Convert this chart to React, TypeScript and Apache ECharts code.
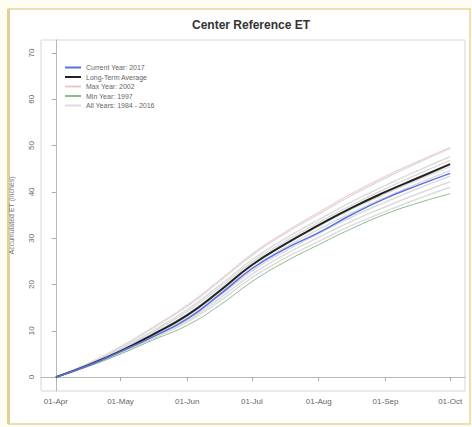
import React, { useEffect, useRef } from "react";
import * as echarts from "echarts";

// Days since 01-Apr at which values were read
const dayOffsets = [0, 15, 30, 45, 61, 76, 91, 106, 122, 137, 153, 168, 183];
const monthTickDays = [0, 30, 61, 91, 122, 153, 183];
const monthTickLabels = ["01-Apr", "01-May", "01-Jun", "01-Jul", "01-Aug", "01-Sep", "01-Oct"];
const yTicks = [0, 10, 20, 30, 40, 50, 60, 70];

const current2017 = [0, 2.5, 5.5, 8.7, 12.6, 17.8, 23.4, 27.6, 31.2, 35.0, 38.6, 41.4, 44.0];
const longTermAvg = [0, 2.6, 5.6, 9.2, 13.4, 18.6, 24.2, 28.6, 32.8, 36.5, 40.0, 43.0, 46.0];
const maxYear2002 = [0, 3.0, 6.6, 10.8, 15.6, 21.0, 26.6, 31.2, 35.6, 39.6, 43.4, 46.6, 49.6];
const minYear1997 = [0, 2.3, 5.0, 8.0, 11.2, 15.5, 20.6, 24.8, 28.6, 32.0, 35.2, 37.6, 39.6];

const allYearsA = [0, 2.9, 6.5, 10.6, 15.3, 20.7, 26.3, 30.9, 35.2, 39.2, 43.0, 46.3, 49.4];
const allYearsB = [0, 2.8, 6.2, 10.0, 14.6, 19.8, 25.3, 29.8, 34.0, 37.8, 41.4, 44.6, 47.6];
const allYearsC = [0, 2.7, 6.0, 9.7, 14.2, 19.3, 24.8, 29.2, 33.4, 37.1, 40.7, 43.8, 46.8];
const allYearsD = [0, 2.6, 5.7, 9.3, 13.6, 18.7, 24.2, 28.5, 32.6, 36.2, 39.6, 42.6, 45.4];
const allYearsE = [0, 2.5, 5.5, 9.0, 13.1, 18.2, 23.6, 27.9, 31.9, 35.4, 38.8, 41.8, 44.6];
const allYearsF = [0, 2.5, 5.4, 8.8, 12.8, 17.6, 22.9, 27.1, 31.0, 34.5, 37.8, 40.7, 43.4];
const allYearsG = [0, 2.4, 5.2, 8.5, 12.3, 17.0, 22.2, 26.4, 30.2, 33.6, 36.8, 39.6, 42.2];
const allYearsH = [0, 2.4, 5.1, 8.3, 11.9, 16.4, 21.5, 25.6, 29.3, 32.7, 35.8, 38.5, 41.0];
const allYears = [allYearsA, allYearsB, allYearsC, allYearsD, allYearsE, allYearsF, allYearsG, allYearsH];

const NAME_CUR = "Current Year: 2017";
const NAME_AVG = "Long-Term Average";
const NAME_MAX = "Max Year: 2002";
const NAME_MIN = "Min Year: 1997";
const NAME_ALL = "All Years: 1984 - 2016";

const toPts = (arr: number[]) => dayOffsets.map((d, i) => [d, arr[i]]);

export default function App() {
  const ref = useRef<HTMLDivElement>(null);
  useEffect(() => {
    if (!ref.current) return;
    const chart = echarts.init(ref.current, null, { renderer: "svg" });
    const font = "Liberation Sans";
    const line = (name: string, data: number[], color: string, width: number, z: number) => ({
      name,
      type: "line",
      data: toPts(data),
      smooth: true,
      showSymbol: false,
      symbol: "none",
      lineStyle: { color, width },
      itemStyle: { color },
      z,
    });
    chart.setOption({
      animation: false,
      backgroundColor: "#fffdf3",
      textStyle: { fontFamily: font },
      graphic: [
        {
          type: "rect",
          shape: { x: 9, y: 9, width: 461, height: 415 },
          style: { fill: "#ffffff", stroke: "#ece0ae", lineWidth: 2 },
          z: -10,
          silent: true,
        },
        {
          type: "rect",
          shape: { x: 7, y: 9, width: 3, height: 415 },
          style: { fill: "#e2cf95" },
          z: -9,
          silent: true,
        },
        {
          type: "text",
          x: 251,
          y: 25,
          style: {
            text: "Center Reference ET",
            fontFamily: font,
            fontSize: 12,
            fontWeight: "bold",
            fill: "#333",
            textAlign: "center",
            textVerticalAlign: "middle",
          },
        },
      ],
      legend: {
        orient: "vertical",
        left: 60,
        top: 58,
        icon: "rect",
        itemWidth: 16,
        itemHeight: 2,
        itemGap: 0.5,
        textStyle: { fontSize: 7, lineHeight: 9, color: "#666", fontFamily: font },
        data: [NAME_CUR, NAME_AVG, NAME_MAX, NAME_MIN, NAME_ALL],
      },
      grid: {
        left: 38,
        top: 40,
        right: 7,
        bottom: 36,
        show: true,
        borderColor: "#d6d6d6",
        borderWidth: 1,
      },
      xAxis: {
        type: "value",
        min: -6.9,
        max: 189.9,
        splitLine: { show: false },
        axisLine: { lineStyle: { color: "#b8b8b8" } },
        axisTick: { show: true, length: 4, lineStyle: { color: "#aaa" }, customValues: monthTickDays },
        axisLabel: {
          customValues: monthTickDays,
          fontSize: 8,
          color: "#666",
          margin: 6,
          formatter: (v: number) => {
            const i = monthTickDays.indexOf(Math.round(v));
            return i >= 0 ? monthTickLabels[i] : "";
          },
        },
      },
      yAxis: {
        type: "value",
        min: -3,
        max: 72.8,
        name: "Accumulated ET (inches)",
        nameLocation: "middle",
        nameGap: 26,
        nameRotate: 90,
        nameTextStyle: { fontSize: 7, color: "#777", fontFamily: font },
        splitLine: { show: false },
        axisLine: { show: true, lineStyle: { color: "#b8b8b8" } },
        axisTick: { show: true, length: 4, lineStyle: { color: "#aaa" }, customValues: yTicks },
        axisLabel: {
          customValues: yTicks,
          rotate: 90,
          fontSize: 8,
          color: "#666",
          margin: 6,
        },
      },
      series: [
        line(NAME_MAX, maxYear2002, "#f3c3cb", 1, 1),
        ...allYears.map((a) => line(NAME_ALL, a, "#dcdcdc", 1.5, 2)),
        line(NAME_MIN, minYear1997, "#8cbc8c", 1, 3),
        line(NAME_AVG, longTermAvg, "#222222", 2, 4),
        line(NAME_CUR, current2017, "#5b6fe6", 1.5, 5),
      ],
    });
    return () => chart.dispose();
  }, []);
  return (
    <div style={{ position: "absolute", left: 0, top: 0 }}>
      <div ref={ref} style={{ width: 472, height: 427 }} />
    </div>
  );
}
